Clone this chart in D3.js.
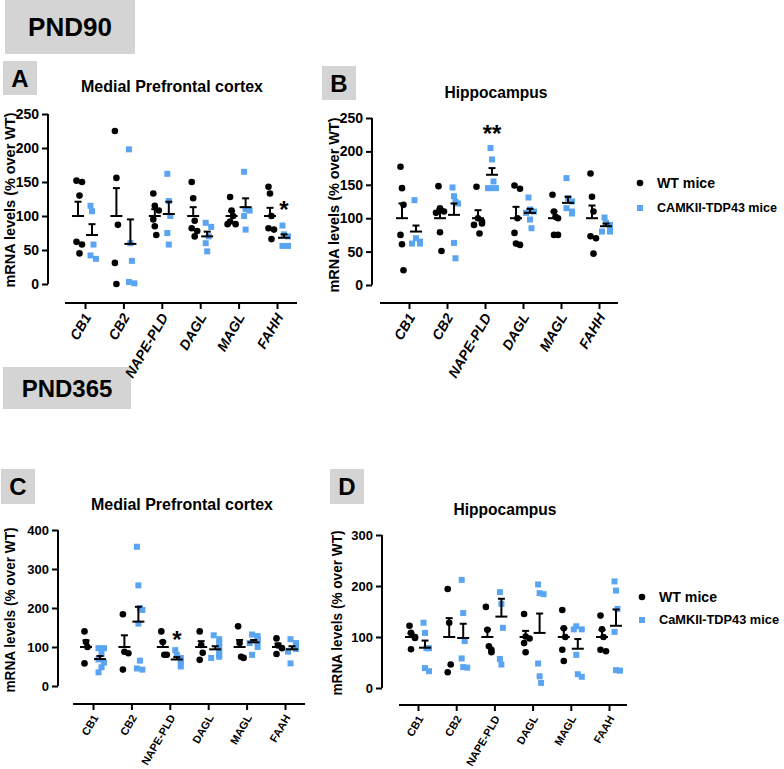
<!DOCTYPE html>
<html><head><meta charset="utf-8">
<script src="https://cdn.jsdelivr.net/npm/d3@7"></script>
<style>body{margin:0;background:#fff}svg{font-family:"Liberation Sans",Arial,sans-serif}</style>
</head><body><svg id="c" width="784" height="769"></svg>
<script>
const catsTop = ["CB1","CB2","NAPE-PLD","DAGL","MAGL","FAHH"];
const catsBot = ["CB1","CB2","NAPE-PLD","DAGL","MAGL","FAAH"];
// Panel A
const aWT = [[152,150,130,62,58,45],[225,156,87,31,0],[133,115,108,95,85,72],[150,126,93,82,78,70],[128,108,100,92,88,88],[143,133,100,82,80,66]];
const aTG = [[115,107,58,42,37],[198,60,34,3,1],[162,122,100,75,58],[90,84,70,60,48],[165,110,108,100,80],[86,73,70,56,56]];
const aMeanWT=[100,100,100,100,100,100], aSemWT=[21,41,10,13,7,12];
const aMeanTG=[72,59,103,70,113,68], aSemTG=[16,36,18,7,13,5];
// Panel B
const bWT = [[177,145,120,75,61,22],[148,115,110,108,79,51],[147,100,95,92,90,77],[149,144,100,78,62,60],[135,110,102,100,75,75],[167,132,110,73,70,47]];
const bTG = [[127,70,65,62,62],[146,133,125,122,63,40],[205,188,155,145,145,145],[131,113,110,108,98,85],[160,130,125,115,110,107],[101,93,90,85,80,80]];
const bMeanWT=[100,100,100,100,100,100], bSemWT=[22,14,12,17,10,19];
const bMeanTG=[80,105,165,108,123,88], bSemTG=[9,17,10,6,9,4];
// Panel C
const cWT = [[140,113,100,58],[184,88,84,42],[140,113,80,80],[140,105,85,67],[153,110,75,72],[122,104,97,82]];
const cTG = [[97,97,82,68,60,48,35],[357,258,200,195,160,65,45,42],[92,80,72,65,60,50],[130,120,110,100,90,80,75,72],[132,128,120,115,110,100,80],[120,110,100,95,90,88,58]];
const cMeanWT=[100,100,100,100,100,100], cSemWT=[17,30,14,15,18,9];
const cMeanTG=[69,165,68,94,112,94], cSemTG=[8,38,6,8,6,8];
// Panel D
const dWT = [[122,108,100,98,76],[194,128,46,31],[159,114,82,75,70],[145,101,97,88,70],[153,117,100,75,53],[142,115,100,75,72]];
const dTG = [[128,108,78,78,39,33],[212,147,92,58,41,40],[188,165,118,57,46],[203,186,184,48,23,10],[121,115,115,65,27,22],[209,191,155,110,35,34]];
const dMeanWT=[100,100,100,100,100,100], dSemWT=[7,37,15,12,17,14];
const dMeanTG=[79,98,140,108,77,122], dSemTG=[14,28,35,38,19,32];
const yTicksA=[0,50,100,150,200,250], yTicksC=[0,100,200,300,400], yTicksD=[0,100,200,300];

const BLUE="#5aa5f2";
const FF="Liberation Sans, Arial";
const svg=d3.select("#c");

function box(x,y,w,h,t,fs){
  svg.append("rect").attr("x",x).attr("y",y).attr("width",w).attr("height",h).attr("fill","#d4d4d4");
  svg.append("text").attr("x",x+w/2).attr("y",y+h/2).attr("dy","0.36em").attr("text-anchor","middle")
    .attr("font-size",fs).attr("font-weight","bold").text(t);
}
box(5,0,130,54,"PND90",26);
box(3,367,128,42,"PND365",24);
box(3,61,34,34,"A",24); box(322,66,34,34,"B",24);
box(1,469,34,35,"C",24); box(330,469,34,35,"D",24);

function panel(o){
  const g=svg.append("g");
  const y=d3.scaleLinear().domain([0,o.max]).range([o.y0,o.ytop]);
  const x=d3.scalePoint().domain(o.cats).range([o.t0,o.t1]);
  const ya=g.append("g").attr("transform",`translate(${o.ax},0)`).call(d3.axisLeft(y).tickValues(o.yt).tickSize(6).tickPadding(3));
  ya.selectAll("path,line").attr("stroke","#000").attr("stroke-width",2);
  ya.select("path").attr("d",`M0,${y(0)}V${y(o.max)}`);
  ya.selectAll("text").attr("font-size",o.yfs).attr("font-weight","bold").attr("font-family",FF);
  const xa=g.append("g").attr("transform",`translate(0,${o.xy})`).call(d3.axisBottom(x).tickSize(6).tickPadding(4));
  xa.selectAll("path,line").attr("stroke","#000").attr("stroke-width",2);
  xa.select("path").attr("d",`M${o.l0},0H${o.l1}`);
  xa.selectAll("text").attr("font-size",o.xfs).attr("font-weight","bold").attr("font-style",o.ital?"italic":"normal")
    .attr("font-family",FF)
    .attr("text-anchor","end").attr("transform","translate(4,8) rotate(-60)").attr("dy","0.35em").attr("y",0).attr("x",-4);
  g.append("text").attr("x",o.tx).attr("y",o.ty).attr("text-anchor","middle").attr("font-size",17).attr("font-weight","bold")
    .attr("textLength",o.tlen).attr("lengthAdjust","spacingAndGlyphs").text(o.title);
  g.append("text").attr("transform",`translate(${o.lx},${o.ly}) rotate(-90)`).attr("text-anchor","middle")
    .attr("font-size",15).attr("font-weight","bold").attr("font-family",FF)
    .attr("textLength",o.llen).attr("lengthAdjust","spacingAndGlyphs").text("mRNA levels (% over WT)");
  function grp(pts,means,sems,off,isTG){
    o.cats.forEach((c,i)=>{
      const cx=x(c)+off;
      const sorted=pts[i];
      sorted.forEach((v,j)=>{
        const close=sorted.filter((w,k)=>k<j&&Math.abs(w-v)<o.max*0.03).length;
        const dx=close?(close%2?4:-4):((j%3)-1)*1.5;
        if(isTG) g.append("rect").attr("x",cx+dx-3).attr("y",y(v)-3).attr("width",6).attr("height",6).attr("fill",BLUE);
        else g.append("circle").attr("cx",cx+dx).attr("cy",y(v)).attr("r",3.3).attr("fill","#000");
      });
      const m=means[i],s=sems[i];
      g.append("line").attr("x1",cx-6).attr("x2",cx+6).attr("y1",y(m)).attr("y2",y(m)).attr("stroke","#000").attr("stroke-width",2);
      g.append("line").attr("x1",cx).attr("x2",cx).attr("y1",y(m)).attr("y2",y(m+s)).attr("stroke","#000").attr("stroke-width",2);
      g.append("line").attr("x1",cx-3.5).attr("x2",cx+3.5).attr("y1",y(m+s)).attr("y2",y(m+s)).attr("stroke","#000").attr("stroke-width",2);
    });
  }
  grp(o.wt,o.mw,o.sw,-7,false);
  grp(o.tg,o.mt,o.st,7,true);
  (o.stars||[]).forEach(s=>{
    g.append("text").attr("x",x(o.cats[s.i])+7).attr("y",y(s.v)+12).attr("text-anchor","middle")
      .attr("font-size",24).attr("font-weight","bold").text(s.t);
  });
  if(o.leg){
    const L=o.leg;
    g.append("circle").attr("cx",L.x).attr("cy",L.y).attr("r",3.3).attr("fill","#000");
    g.append("rect").attr("x",L.x-3).attr("y",L.y+L.dy-3).attr("width",6).attr("height",6).attr("fill",BLUE);
    g.append("text").attr("x",L.x+17).attr("y",L.y).attr("dy","0.36em").attr("font-size",14).attr("font-weight","bold")
      .attr("textLength",58).attr("lengthAdjust","spacingAndGlyphs").text("WT mice");
    g.append("text").attr("x",L.x+17).attr("y",L.y+L.dy).attr("dy","0.36em").attr("font-size",12).attr("font-weight","bold")
      .attr("textLength",L.len).attr("lengthAdjust","spacingAndGlyphs").text(L.t);
  }
}
panel({cats:catsTop,max:250,yt:yTicksA,ax:48,y0:284,ytop:114,t0:85,t1:277,l0:65,l1:297,xy:303,xfs:14,yfs:14,ital:true,
  title:"Medial Prefrontal cortex",tx:172,ty:92,tlen:182,lx:15,ly:200,llen:175,wt:aWT,tg:aTG,mw:aMeanWT,sw:aSemWT,mt:aMeanTG,st:aSemTG,
  stars:[{i:5,v:115,t:"*"}]});
panel({cats:catsTop,max:250,yt:yTicksA,ax:372,y0:285,ytop:118,t0:409,t1:599,l0:380,l1:618,xy:303,xfs:14,yfs:14,ital:true,
  title:"Hippocampus",tx:496,ty:98,tlen:103,lx:339,ly:205,llen:175,wt:bWT,tg:bTG,mw:bMeanWT,sw:bSemWT,mt:bMeanTG,st:bSemTG,
  stars:[{i:2,v:232,t:"**"}],leg:{x:640,y:183,dy:25,len:120,t:"CAMKII-TDP43 mice"}});
panel({cats:catsBot,max:400,yt:yTicksC,ax:58,y0:686,ytop:530,t0:93,t1:285,l0:73,l1:305,xy:704,xfs:11,yfs:13,ital:false,
  title:"Medial Prefrontal cortex",tx:182,ty:510,tlen:182,lx:15,ly:610,llen:165,wt:cWT,tg:cTG,mw:cMeanWT,sw:cSemWT,mt:cMeanTG,st:cSemTG,
  stars:[{i:2,v:128,t:"*"}]});
panel({cats:catsBot,max:300,yt:yTicksD,ax:382,y0:688,ytop:535,t0:418,t1:609,l0:399,l1:627,xy:705,xfs:11,yfs:13,ital:false,
  title:"Hippocampus",tx:505,ty:515,tlen:103,lx:342,ly:613,llen:165,wt:dWT,tg:dTG,mw:dMeanWT,sw:dSemWT,mt:dMeanTG,st:dSemTG,
  leg:{x:642,y:597,dy:23,len:120,t:"CaMKII-TDP43 mice"}});
</script></body></html>
